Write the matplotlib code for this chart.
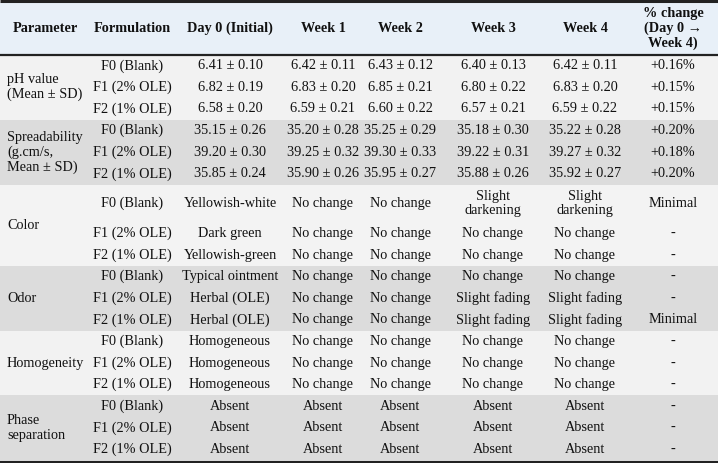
import matplotlib.pyplot as plt
from matplotlib.patches import Rectangle

# table content
headers = ["Parameter", "Formulation", "Day 0 (Initial)", "Week 1", "Week 2",
           "Week 3", "Week 4", "% change\n(Day 0 \u2192\nWeek 4)"]
formulations = ["F0 (Blank)", "F1 (2% OLE)", "F2 (1% OLE)"]
parameters = ["pH value\n(Mean \u00b1 SD)", "Spreadability\n(g.cm/s,\nMean \u00b1 SD)",
              "Color", "Odor", "Homogeneity", "Phase\nseparation"]

ph_rows = [
    ["6.41 \u00b1 0.10", "6.42 \u00b1 0.11", "6.43 \u00b1 0.12", "6.40 \u00b1 0.13", "6.42 \u00b1 0.11", "+0.16%"],
    ["6.82 \u00b1 0.19", "6.83 \u00b1 0.20", "6.85 \u00b1 0.21", "6.80 \u00b1 0.22", "6.83 \u00b1 0.20", "+0.15%"],
    ["6.58 \u00b1 0.20", "6.59 \u00b1 0.21", "6.60 \u00b1 0.22", "6.57 \u00b1 0.21", "6.59 \u00b1 0.22", "+0.15%"],
]
spread_rows = [
    ["35.15 \u00b1 0.26", "35.20 \u00b1 0.28", "35.25 \u00b1 0.29", "35.18 \u00b1 0.30", "35.22 \u00b1 0.28", "+0.20%"],
    ["39.20 \u00b1 0.30", "39.25 \u00b1 0.32", "39.30 \u00b1 0.33", "39.22 \u00b1 0.31", "39.27 \u00b1 0.32", "+0.18%"],
    ["35.85 \u00b1 0.24", "35.90 \u00b1 0.26", "35.95 \u00b1 0.27", "35.88 \u00b1 0.26", "35.92 \u00b1 0.27", "+0.20%"],
]
color_rows = [
    ["Yellowish-white", "No change", "No change", "Slight\ndarkening", "Slight\ndarkening", "Minimal"],
    ["Dark green", "No change", "No change", "No change", "No change", "-"],
    ["Yellowish-green", "No change", "No change", "No change", "No change", "-"],
]
odor_rows = [
    ["Typical ointment", "No change", "No change", "No change", "No change", "-"],
    ["Herbal (OLE)", "No change", "No change", "Slight fading", "Slight fading", "-"],
    ["Herbal (OLE)", "No change", "No change", "Slight fading", "Slight fading", "Minimal"],
]
homog_rows = [
    ["Homogeneous", "No change", "No change", "No change", "No change", "-"],
    ["Homogeneous", "No change", "No change", "No change", "No change", "-"],
    ["Homogeneous", "No change", "No change", "No change", "No change", "-"],
]
phase_rows = [
    ["Absent", "Absent", "Absent", "Absent", "Absent", "-"],
    ["Absent", "Absent", "Absent", "Absent", "Absent", "-"],
    ["Absent", "Absent", "Absent", "Absent", "Absent", "-"],
]
groups = [ph_rows, spread_rows, color_rows, odor_rows, homog_rows, phase_rows]

# layout (pixels)
W, H = 718, 463
col_x = [45, 132, 230, 323, 400, 493, 585, 673]
param_x = 7
header_top, header_h = 2, 53
row_h = 21.6
tall_row_h = 38
group_bg = ["#f2f2f2", "#dcdcdc", "#f3f3f3", "#dcdcdc", "#f2f2f2", "#dcdcdc"]
header_bg = "#e8f0f8"
fam = ["Liberation Serif", "DejaVu Serif"]
fs = 10.3
ink = "#111111"

fig = plt.figure(figsize=(W / 100, H / 100), dpi=100)
ax = fig.add_axes([0, 0, 1, 1])
ax.set_xlim(0, W)
ax.set_ylim(H, 0)
ax.axis("off")

ax.add_patch(Rectangle((0, header_top), W, header_h, color=header_bg, lw=0))
hy = header_top + header_h / 2
for x, h in zip(col_x, headers):
    ax.text(x, hy, h, ha="center", va="center", fontsize=fs, fontweight="bold",
            family=fam, linespacing=1.12, color=ink)

y = header_top + header_h
for gi, (param, rows) in enumerate(zip(parameters, groups)):
    heights = [tall_row_h if (gi == 2 and ri == 0) else row_h for ri in range(len(rows))]
    gh = sum(heights)
    ax.add_patch(Rectangle((0, y), W, gh, color=group_bg[gi], lw=0))
    ax.text(param_x, y + gh / 2, param, ha="left", va="center", fontsize=fs,
            family=fam, linespacing=1.15, color=ink)
    ry = y
    for ri, (form, vals) in enumerate(zip(formulations, rows)):
        cy = ry + heights[ri] / 2
        ax.text(col_x[1], cy, form, ha="center", va="center", fontsize=fs,
                family=fam, color=ink)
        for x, v in zip(col_x[2:], vals):
            ax.text(x, cy, v, ha="center", va="center", fontsize=fs,
                    family=fam, linespacing=1.12, color=ink)
        ry += heights[ri]
    y += gh

# rules
ax.plot([0, W], [1.2, 1.2], color="#222222", lw=2.2, solid_capstyle="butt")
ax.plot([0, W], [header_top + header_h, header_top + header_h], color="#222222", lw=1.6)
ax.plot([0, W], [y + 1.5, y + 1.5], color="#222222", lw=2.4)

fig.savefig("out.png", dpi=100)
